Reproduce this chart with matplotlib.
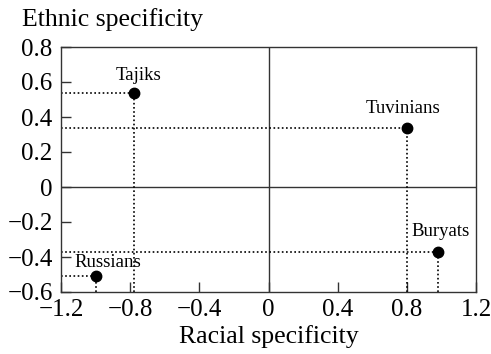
import matplotlib
matplotlib.use("Agg")
import matplotlib.pyplot as plt

# racial / ethnic specificity per group
groups = ["Tajiks", "Tuvinians", "Buryats", "Russians"]
racial = [-0.78, 0.80, 0.98, -1.00]
ethnic = [0.54, 0.34, -0.37, -0.51]
# label offsets in points (dx, dy)
label_off = [(3.5, 12.5), (-3, 13.5), (2, 14.5), (9, 10)]

xticks = [-1.2, -0.8, -0.4, 0, 0.4, 0.8, 1.2]
yticks = [-0.6, -0.4, -0.2, 0, 0.2, 0.4, 0.6, 0.8]

plt.rcParams["font.family"] = ["Liberation Serif", "DejaVu Serif"]
plt.rcParams["axes.unicode_minus"] = True

fig = plt.figure(figsize=(4.91, 3.54), dpi=100)
ax = fig.add_axes([61 / 491, 1 - 292 / 354, 415 / 491, 245 / 354])

xmin, xmax = -1.2, 1.2
ymin, ymax = -0.6, 0.8
ax.set_xlim(xmin, xmax)
ax.set_ylim(ymin, ymax)

edge = "#333333"
ax.axhline(0, color=edge, lw=1.0, zorder=1)
ax.axvline(0, color=edge, lw=1.0, zorder=1)

for x, y in zip(racial, ethnic):
    ax.plot([xmin, x], [y, y], color="black", lw=1.2, ls=(0, (1, 1.5)), zorder=2)
    ax.plot([x, x], [ymin, y], color="black", lw=1.2, ls=(0, (1, 1.5)), zorder=2)

ax.plot(racial, ethnic, "o", color="black", ms=7.5, zorder=3)

for name, x, y, (dx, dy) in zip(groups, racial, ethnic, label_off):
    ax.annotate(name, (x, y), xytext=(dx, dy), textcoords="offset points",
                ha="center", va="center", fontsize=13.5)

ax.set_xticks(xticks)
ax.set_yticks(yticks)
ax.set_xticklabels(["\u22121.2", "\u22120.8", "\u22120.4", "0", "0.4", "0.8", "1.2"])
ax.set_yticklabels(["\u22120.6", "\u22120.4", "\u22120.2", "0", "0.2", "0.4", "0.6", "0.8"])
ax.tick_params(direction="in", length=7, width=1.0, color=edge, labelsize=18)
ax.tick_params(axis="x", pad=5)
ax.tick_params(axis="y", pad=6)

for s in ax.spines.values():
    s.set_color(edge)
    s.set_linewidth(1.0)

fig.text(22 / 491, 1 - 20 / 354, "Ethnic specificity", fontsize=18.5,
         ha="left", va="center")
ax.set_xlabel("Racial specificity", fontsize=18.5, labelpad=3)

fig.savefig("out.png", dpi=100)
